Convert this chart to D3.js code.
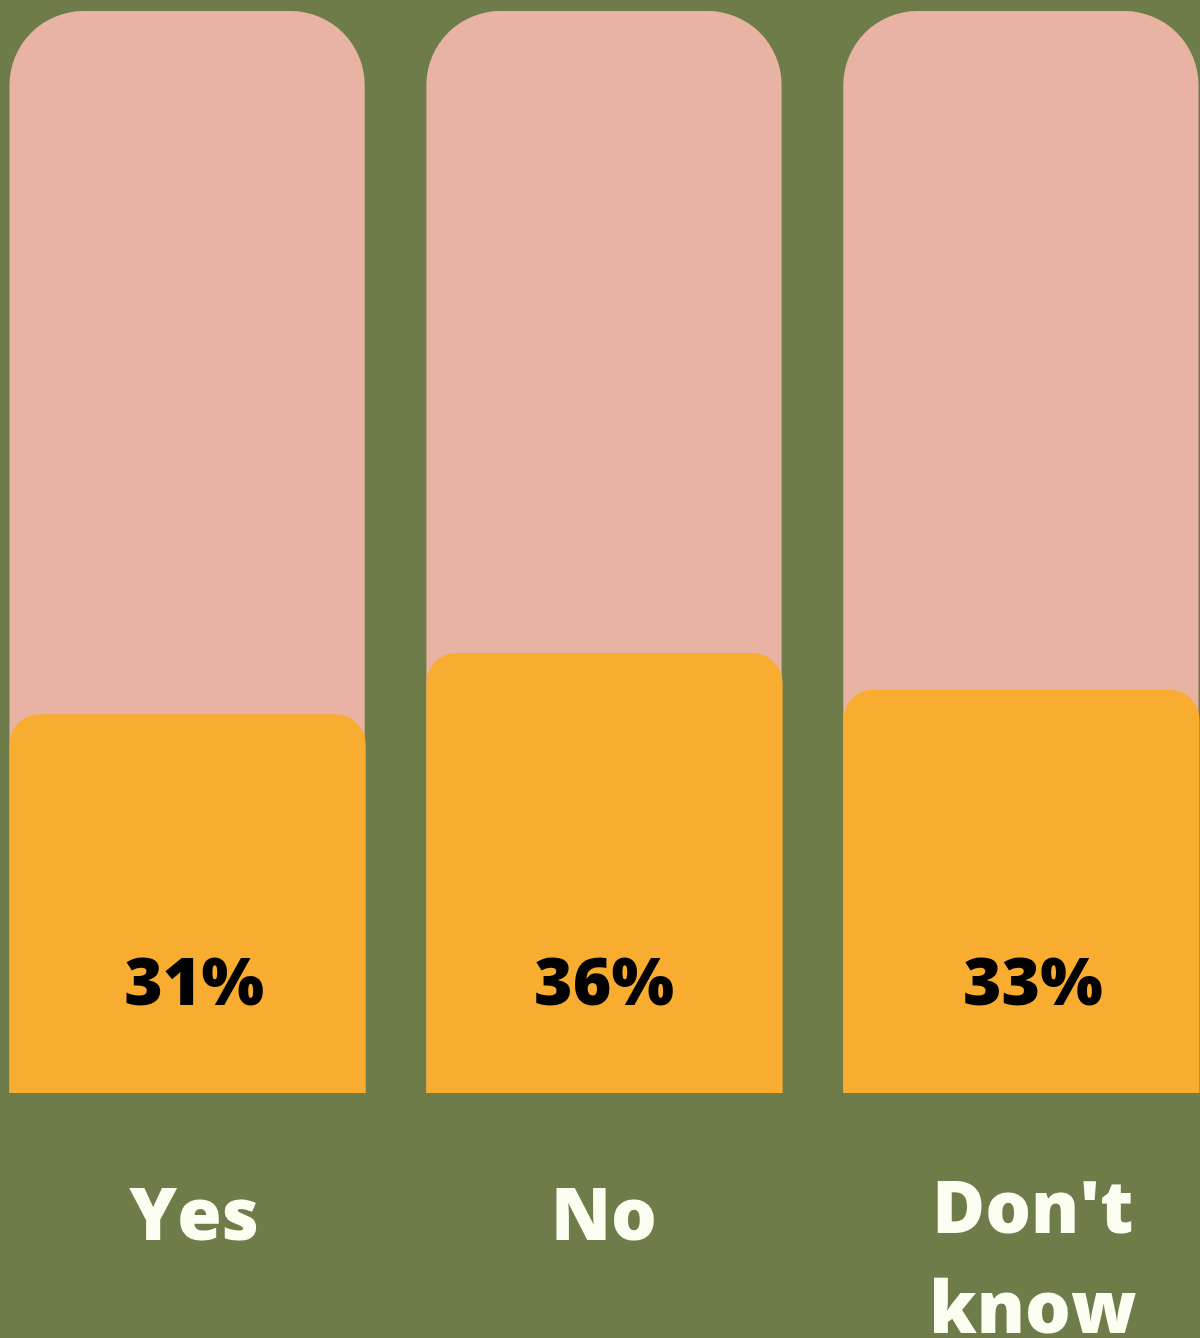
<!DOCTYPE html>
<html><head><meta charset="utf-8">
<script src="https://cdn.jsdelivr.net/npm/d3@7"></script>
<style>html,body{margin:0;padding:0;background:#6D7C48;}svg{display:block;}</style>
</head><body>
<svg id="c" width="1200" height="1338"></svg>
<script>
const categories = ["Yes", "No", "Don't know"];
const values = [31, 36, 33];
const valueLabels = ["31%", "36%", "33%"];
const categoryLines = [["Yes"], ["No"], ["Don't", "know"]];

const W = 1200, H = 1338;
const svg = d3.select("#c");
svg.append("rect").attr("width", W).attr("height", H).attr("fill", "#6D7C48");

const x = d3.scaleBand().domain(categories).range([9.5, 1198.5]).paddingInner(0.148).paddingOuter(0);
const y = d3.scaleLinear().domain([0, 100]).range([1093, -129]);
const trackTop = 11;

function topRounded(x0, y0, w, h, r) {
  r = Math.min(r, w / 2, h);
  return `M${x0},${y0 + h}V${y0 + r}A${r},${r} 0 0 1 ${x0 + r},${y0}H${x0 + w - r}A${r},${r} 0 0 1 ${x0 + w},${y0 + r}V${y0 + h}Z`;
}

const g = svg.append("g");
g.selectAll("path.track").data(categories).join("path").attr("class", "track")
  .attr("d", d => topRounded(x(d), trackTop, x.bandwidth(), y(0) - trackTop, 74))
  .attr("fill", "#E8B3A3");

g.selectAll("path.bar").data(values).join("path").attr("class", "bar")
  .attr("d", (v, i) => topRounded(x(categories[i]), y(v), x.bandwidth() + 1, y(0) - y(v), 30))
  .attr("fill", "#F8AD31");

const offs = [7, 0, 12];
g.selectAll("text.val").data(valueLabels).join("text").attr("class", "val")
  .attr("x", (d, i) => x(categories[i]) + x.bandwidth() / 2 + offs[i])
  .attr("y", 1005)
  .attr("text-anchor", "middle")
  .attr("font-family", "'Open Sans', sans-serif")
  .attr("font-weight", 800)
  .attr("font-size", 66)
  .attr("fill", "#000")
  .text(d => d);

const labY = [1240, 1240, 1233];
categoryLines.forEach((lines, i) => {
  const t = g.append("text")
    .attr("x", x(categories[i]) + x.bandwidth() / 2 + offs[i])
    .attr("y", labY[i])
    .attr("text-anchor", "middle")
    .attr("font-family", "'Open Sans', sans-serif")
    .attr("font-weight", 800)
    .attr("font-size", 72)
    .attr("fill", "#FDFEF2");
  lines.forEach((l, j) => {
    t.append("tspan").attr("x", x(categories[i]) + x.bandwidth() / 2 + offs[i])
      .attr("dy", j === 0 ? 0 : 100).text(l);
  });
});
</script>
</body></html>
